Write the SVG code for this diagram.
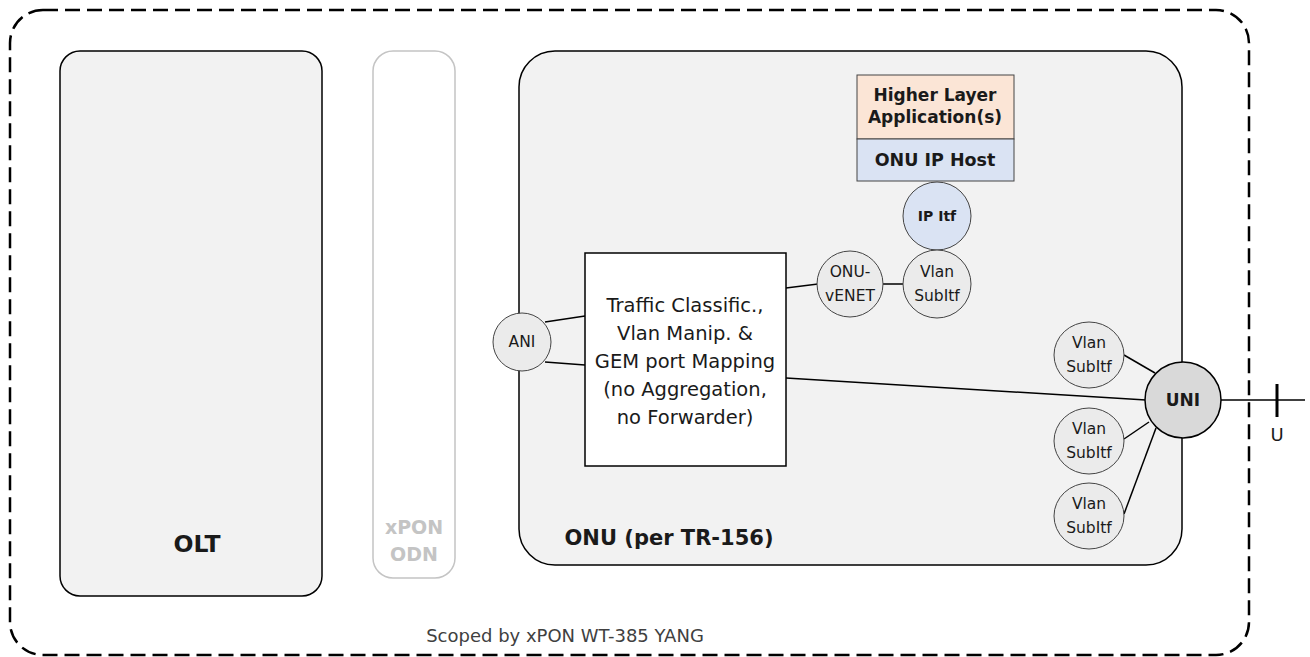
<svg xmlns="http://www.w3.org/2000/svg" width="1310" height="657" viewBox="0 0 1310 657">
<style>
text{font-family:"DejaVu Sans",sans-serif;fill:#1a1a1a;text-anchor:middle;dominant-baseline:central}
.b{font-weight:bold}
.box{fill:#f2f2f2;stroke:#000;stroke-width:1.5}
.c{fill:#ebebeb;stroke:#444;stroke-width:1}
.ln{stroke:#000;stroke-width:1.5;fill:none}
.s{font-size:15.5px}
.t{font-size:19.5px}
</style>
<rect x="10" y="10" width="1239" height="645" rx="33" fill="none" stroke="#000" stroke-width="2.5" stroke-dasharray="15 7"/>
<g id="olt"><rect class="box" x="60" y="51" width="262" height="545" rx="20"/><text class="b" x="197" y="544" font-size="23.5">OLT</text></g>
<g id="odn"><rect x="373" y="51" width="82" height="527" rx="20" fill="#fff" stroke="#c4c4c4" stroke-width="1.5"/><text class="b" x="414" y="527" font-size="19" style="fill:#c4c4c4">xPON</text><text class="b" x="414" y="554" font-size="19" style="fill:#c4c4c4">ODN</text></g>
<g id="onu"><rect class="box" x="519" y="51" width="663" height="514" rx="36"/><text class="b" x="669" y="538" font-size="21">ONU (per TR-156)</text></g>
<text x="565" y="635" font-size="18" style="fill:#404040">Scoped by xPON WT-385 YANG</text>
<g id="connectors">
<line class="ln" x1="545" y1="322" x2="585" y2="316"/>
<line class="ln" x1="545" y1="362" x2="585" y2="365"/>
<line class="ln" x1="786" y1="288" x2="818" y2="284"/>
<line class="ln" x1="786" y1="378" x2="1146" y2="400"/>
<line class="ln" x1="883" y1="284" x2="903" y2="284"/>
<line class="ln" x1="1124" y1="355" x2="1155" y2="373"/>
<line class="ln" x1="1124" y1="439" x2="1149" y2="422"/>
<line class="ln" x1="1124" y1="514" x2="1156" y2="428"/>
<line class="ln" x1="1221" y1="400" x2="1305" y2="400"/>
<line stroke="#000" stroke-width="3" x1="1277" y1="384" x2="1277" y2="417"/>
</g>
<g id="higher"><rect x="857" y="75" width="157" height="64" fill="#fbe5d6" stroke="#444" stroke-width="1"/><text class="b" x="935" y="95" font-size="17">Higher Layer</text><text class="b" x="935" y="117" font-size="17">Application(s)</text></g>
<g id="iphost"><rect x="857" y="139" width="157" height="42" fill="#dae3f3" stroke="#444" stroke-width="1"/><text class="b" x="935" y="160" font-size="17.5">ONU IP Host</text></g>
<g id="ipitf"><circle cx="937" cy="216" r="34" fill="#dae3f3" stroke="#444" stroke-width="1"/><text class="b" x="937" y="216" font-size="14">IP Itf</text></g>
<g id="traffic"><rect x="585" y="253" width="201" height="213" fill="#fff" stroke="#000" stroke-width="1.5"/>
<text class="t" x="685" y="305">Traffic Classific.,</text>
<text class="t" x="685" y="333">Vlan Manip. &amp;</text>
<text class="t" x="685" y="361">GEM port Mapping</text>
<text class="t" x="685" y="389">(no Aggregation,</text>
<text class="t" x="685" y="417">no Forwarder)</text></g>
<g id="ani"><circle class="c" cx="522" cy="342" r="29"/><text class="s" x="522" y="342">ANI</text></g>
<g id="venet"><circle class="c" cx="850" cy="284" r="33"/><text class="s" x="850" y="272">ONU-</text><text class="s" x="850" y="296">vENET</text></g>
<g id="vlan0"><circle class="c" cx="937" cy="284" r="34"/><text class="s" x="937" y="272">Vlan</text><text class="s" x="937" y="296">SubItf</text></g>
<g id="vlan1"><ellipse class="c" cx="1089" cy="355" rx="35" ry="33"/><text class="s" x="1089" y="343">Vlan</text><text class="s" x="1089" y="367">SubItf</text></g>
<g id="vlan2"><ellipse class="c" cx="1089" cy="441" rx="35" ry="33"/><text class="s" x="1089" y="429">Vlan</text><text class="s" x="1089" y="453">SubItf</text></g>
<g id="vlan3"><ellipse class="c" cx="1089" cy="516" rx="35" ry="33"/><text class="s" x="1089" y="504">Vlan</text><text class="s" x="1089" y="528">SubItf</text></g>
<g id="uni"><circle cx="1183" cy="400" r="38" fill="#d9d9d9" stroke="#000" stroke-width="1.5"/><text class="b" x="1183" y="400" font-size="17">UNI</text></g>
<text x="1277" y="434" font-size="18">U</text>
</svg>
